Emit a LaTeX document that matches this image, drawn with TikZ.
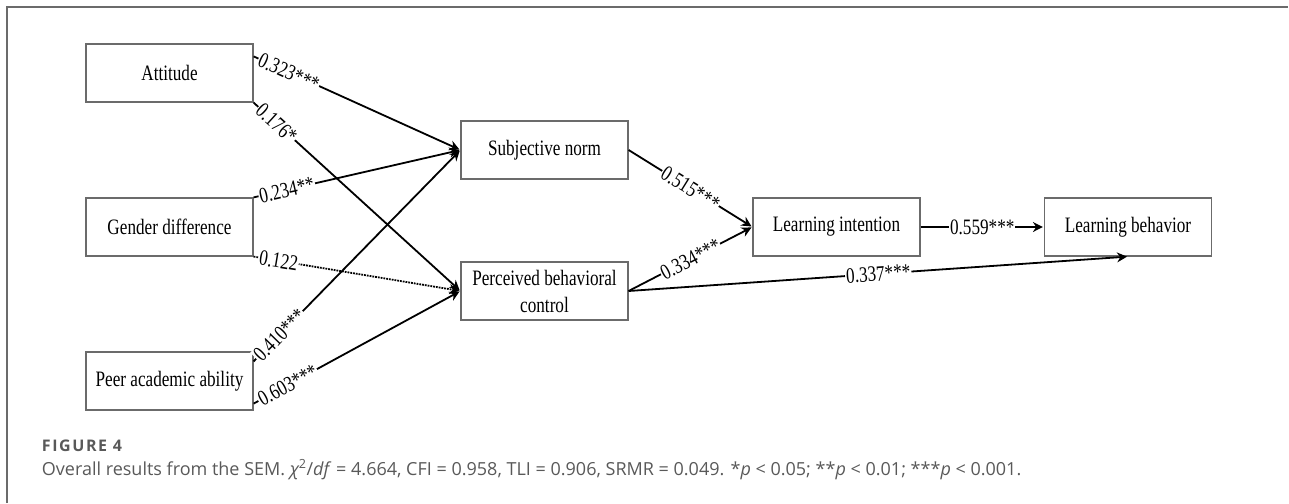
\documentclass[tikz,border=0pt]{standalone}
\usepackage{fontspec}
\usepackage{tikz}
\usetikzlibrary{arrows.meta}
\newfontfamily\semfont[FakeStretch=0.78]{Liberation Serif}
\newfontfamily\capfont{Open Sans}
\definecolor{framegray}{HTML}{6B6B6B}
\definecolor{capgray}{HTML}{595959}

\begin{document}
\begin{tikzpicture}[->,>={Stealth[length=10pt,width=10pt]},shorten >=1pt,node distance=154pt,line width=1.8pt,
  semvar/.style={draw=framegray,line width=1.2pt,minimum width=167pt,minimum height=58pt,inner sep=2pt,align=center,font=\semfont\fontsize{22}{27}\selectfont},
  coef/.style={sloped,fill=white,inner sep=1pt,font=\semfont\fontsize{22}{22}\selectfont}]
  \useasboundingbox (0pt,0pt) rectangle (1289pt,-503pt);
  \draw[-,framegray,line width=2pt] (7pt,-503pt) -- (7pt,-7pt) -- (1289pt,-7pt);

  \node[semvar] (gen)  at (169.5pt,-227pt) {Gender difference};
  \node[semvar] (att)  [above of=gen] {Attitude};
  \node[semvar] (peer) [below of=gen] {Peer academic ability};
  \node[semvar] (sn)   [right of=gen,node distance=375pt,yshift=77pt] {Subjective norm};
  \node[semvar] (pbc)  [right of=gen,node distance=375pt,yshift=-64pt] {Perceived behavioral\\control};
  \node[semvar] (li)   [right of=gen,node distance=667pt] {Learning intention};
  \node[semvar] (lb)   [right of=li,node distance=291.5pt] {Learning behavior};

  \path ([yshift=-13pt]att.north east) edge node[coef,pos=0.02,anchor=west] {0.323***} (sn.west)
        (att.south east) edge node[coef,pos=0.02,anchor=west] {0.176*} (pbc.west);
  \path (gen.north east) edge node[coef,pos=0.02,anchor=west] {0.234**} (sn.west)
        (gen.south east) edge[densely dotted] node[coef,pos=0.02,anchor=west] {0.122} (pbc.west);
  \path ([yshift=-10pt]peer.north east) edge node[coef,pos=0.01,anchor=west] {0.410***} (sn.west)
        ([yshift=7pt]peer.south east) edge node[coef,pos=0.02,anchor=west] {0.603***} (pbc.west);
  \path (sn.east) edge node[coef] {0.515***} (li.west)
        (pbc.east) edge node[coef] {0.334***} (li.west)
        (pbc.east) edge node[coef] {0.337***} (lb.south)
        (li.east) edge node[coef] {0.559***} (lb.west);

  \node[anchor=base west,inner sep=0pt,text=capgray,font=\capfont\bfseries\fontsize{16}{18}\selectfont\addfontfeature{LetterSpace=10}] (figno) at (41pt,-451pt) {FIGURE 4};
  \node[anchor=base west,inner sep=0pt,text=capgray,font=\capfont\fontsize{18}{22}\selectfont] (caption) at (41pt,-475pt)
    {Overall results from the SEM. {\itshape χ}\textsuperscript{2}/\textit{df} = 4.664, CFI = 0.958, TLI = 0.906, SRMR = 0.049. *\textit{p} < 0.05; **\textit{p} < 0.01; ***\textit{p} < 0.001.};
\end{tikzpicture}
\end{document}
